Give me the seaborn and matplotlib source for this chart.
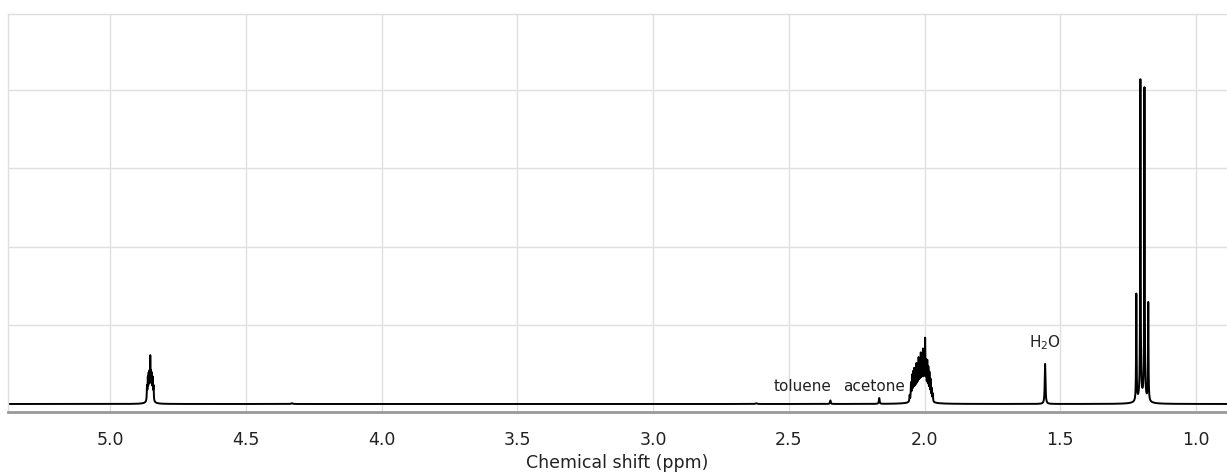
import numpy as np
import pandas as pd
import matplotlib
matplotlib.use("Agg")
import matplotlib.pyplot as plt
from matplotlib.ticker import MultipleLocator
import seaborn as sns

# ---- peak data (ppm, relative intensity, half width) ----
peak_ppm = [4.840, 4.843, 4.846, 4.849, 4.852, 4.855, 4.858, 4.861, 4.864,
            2.055, 2.050, 2.046, 2.042, 2.038, 2.034, 2.030, 2.026, 2.022, 2.018,
            2.014, 2.010, 2.006, 2.002, 1.998, 1.994, 1.990, 1.986, 1.982, 1.978,
            1.974, 1.970,
            1.556,
            1.220, 1.205, 1.190, 1.176,
            2.347, 2.167, 4.330, 2.620]
peak_height = [0.18, 0.26, 0.29, 0.29, 0.50, 0.29, 0.29, 0.26, 0.18,
               0.08, 0.22, 0.30, 0.33, 0.36, 0.33, 0.40, 0.37, 0.45, 0.42,
               0.49, 0.45, 0.54, 0.45, 0.70, 0.42, 0.44, 0.37, 0.32, 0.25,
               0.15, 0.10,
               0.51,
               1.36, 4.06, 3.96, 1.25,
               0.045, 0.075, 0.01, 0.01]
peak_width = [0.0010] * 9 + [0.0011] * 22 + [0.0016] + [0.0010] * 4 + [0.0015, 0.0015, 0.003, 0.003]

# broad pedestals under the multiplets
base_ppm = [4.852, 2.012, 1.198]
base_height = [0.04, 0.07, 0.06]
base_width = [0.012, 0.022, 0.018]

labels = ["toluene", "acetone", "H$_2$O"]
label_ppm = [2.448, 2.187, 1.555]
label_y = [0.13, 0.13, 0.66]

major_ticks = [5.0, 4.5, 4.0, 3.5, 3.0, 2.5, 2.0, 1.5, 1.0]
tick_labels = ["5.0", "4.5", "4.0", "3.5", "3.0", "2.5", "2.0", "1.5", "1.0"]

# ---- build the spectrum line from the peak list ----
x = np.arange(5.40, 0.85, -0.0002)
y = np.zeros_like(x)
for p, h, w in zip(peak_ppm + base_ppm, peak_height + base_height, peak_width + base_width):
    y += h * w**2 / ((x - p) ** 2 + w**2)
df = pd.DataFrame({"ppm": x, "intensity": y})

sns.set_style("white")
plt.rcParams["font.family"] = ["DejaVu Sans"]

fig = plt.figure(figsize=(12.27, 4.73), dpi=100)
ax = fig.add_axes([8 / 1227, 1 - 412 / 473, 1 - 8 / 1227, (412 - 14) / 473])

sns.lineplot(data=df, x="ppm", y="intensity", ax=ax, color="black",
             linewidth=1.4, sort=False, estimator=None)

ax.set_xlim(5.376, 0.886)
ax.set_ylim(-0.102, 4.968)

ax.xaxis.set_minor_locator(MultipleLocator(0.25))
ax.set_xticks(major_ticks)
ax.set_xticklabels(tick_labels)
ax.set_yticks([1, 2, 3, 4])
ax.set_yticklabels([])
ax.tick_params(axis="y", length=0)
ax.tick_params(axis="x", which="major", direction="out", length=6, width=1,
               color="#888888", labelsize=12.5, pad=8, labelcolor="#222222")
ax.tick_params(axis="x", which="minor", direction="out", length=3, width=1,
               color="#888888")

ax.grid(True, which="major", color="#dfdfdf", linewidth=1)
ax.set_axisbelow(True)

for side in ["top", "left"]:
    ax.spines[side].set_color("#dfdfdf")
    ax.spines[side].set_linewidth(1)
ax.spines["right"].set_visible(False)
ax.spines["bottom"].set_color("#999999")
ax.spines["bottom"].set_linewidth(2)

ax.set_xlabel("Chemical shift (ppm)", fontsize=12.5, color="#222222", labelpad=3)
ax.set_ylabel("")

for t, px, py in zip(labels, label_ppm, label_y):
    ax.text(px, py, t, ha="center", va="bottom", fontsize=11, color="#222222")

fig.savefig("out.png", dpi=100)
